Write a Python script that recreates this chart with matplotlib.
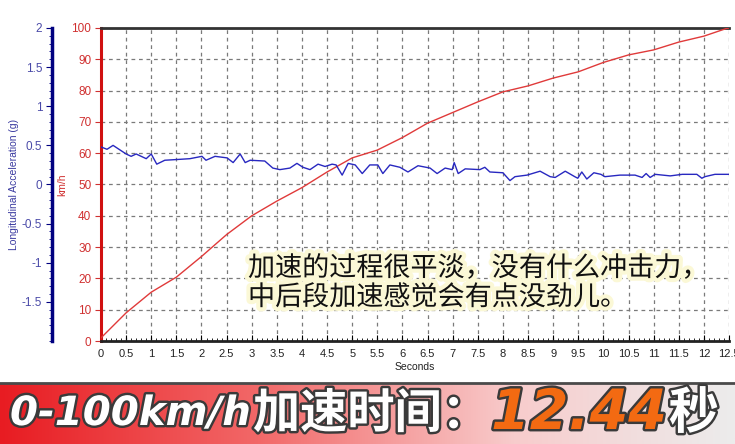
import numpy as np
import matplotlib
matplotlib.use('Agg')
import matplotlib.pyplot as plt
import matplotlib.patheffects as pe
from matplotlib.ticker import MultipleLocator, FixedLocator
from matplotlib.colors import LinearSegmentedColormap

# 速度曲线 (km/h)
speed_t = [0, 0.5, 1.0, 1.5, 2.0, 2.5, 3.0, 3.5, 4.0, 4.5, 5.0, 5.5, 6.0, 6.5, 7.0,
           7.5, 8.0, 8.5, 9.0, 9.5, 10.0, 10.5, 11.0, 11.5, 12.0, 12.44, 12.5]
speed_kmh = [1, 9, 15.6, 20.4, 27, 34, 40, 44.7, 49, 54, 58.5, 61, 65, 69.6, 73,
             76.4, 79.6, 81.5, 84, 86, 89, 91.4, 93, 95.5, 97.4, 99.8, 100]

# 纵向加速度 (g)
acc_t = [0, 0.12, 0.24, 0.50, 0.60, 0.70, 0.90, 1.00, 1.11, 1.27, 1.53, 1.77, 2.01, 2.09,
         2.27, 2.51, 2.63, 2.77, 2.87, 2.97, 3.26, 3.42, 3.56, 3.76, 3.90, 4.02, 4.16,
         4.32, 4.46, 4.60, 4.68, 4.80, 4.92, 5.06, 5.20, 5.35, 5.51, 5.61, 5.75, 5.95,
         6.11, 6.31, 6.55, 6.69, 6.85, 6.99, 7.03, 7.11, 7.25, 7.54, 7.64, 7.74, 8.00,
         8.14, 8.24, 8.48, 8.74, 8.94, 9.04, 9.24, 9.43, 9.49, 9.57, 9.67, 9.81, 9.95,
         10.03, 10.33, 10.63, 10.77, 10.85, 10.93, 11.03, 11.33, 11.57, 11.86, 11.96,
         12.02, 12.22, 12.5]
acc_g = [0.48, 0.45, 0.50, 0.39, 0.36, 0.39, 0.33, 0.39, 0.26, 0.31, 0.32, 0.33, 0.36, 0.31,
         0.36, 0.34, 0.28, 0.39, 0.28, 0.31, 0.30, 0.21, 0.19, 0.21, 0.27, 0.22, 0.19,
         0.26, 0.23, 0.26, 0.25, 0.12, 0.27, 0.25, 0.14, 0.25, 0.25, 0.14, 0.25, 0.22,
         0.16, 0.24, 0.21, 0.14, 0.21, 0.19, 0.28, 0.14, 0.20, 0.19, 0.22, 0.16, 0.15,
         0.05, 0.10, 0.12, 0.17, 0.10, 0.09, 0.17, 0.10, 0.08, 0.16, 0.07, 0.15, 0.13,
         0.10, 0.12, 0.12, 0.09, 0.14, 0.09, 0.13, 0.11, 0.13, 0.13, 0.08,
         0.10, 0.13, 0.13]

acc_ticks = [-1.5, -1, -0.5, 0, 0.5, 1, 1.5, 2]
acc_labels = ['-1.5', '-1', '-0.5', '0', '0.5', '1', '1.5', '2']

note_text = '加速的过程很平淡，没有什么冲击力，\n中后段加速感觉会有点没劲儿。'
banner_parts = ['0-100km/h', '加速时间：', '12.44', '秒']

plt.rcParams['font.family'] = ['Liberation Sans', 'DejaVu Sans']

W, H = 735, 444
fig = plt.figure(figsize=(W / 100, H / 100), dpi=100)
fig.patch.set_facecolor('white')

ax = fig.add_axes([101 / W, 103 / H, 628 / W, 313 / H])
ax.set_xlim(0, 12.5)
ax.set_ylim(0, 100)

# 网格
ax.xaxis.set_major_locator(MultipleLocator(0.5))
ax.xaxis.set_minor_locator(MultipleLocator(0.1))
ax.yaxis.set_major_locator(MultipleLocator(10))
ax.xaxis.set_major_formatter(matplotlib.ticker.FormatStrFormatter('%g'))
ax.grid(True, which='major', color='#7a7a7a', linestyle=(0, (3, 3)), linewidth=0.9)

ax.spines['right'].set_visible(False)
ax.spines['top'].set_color('#333333')
ax.spines['top'].set_linewidth(2)
ax.spines['bottom'].set_color('#222222')
ax.spines['bottom'].set_linewidth(2)
ax.spines['left'].set_color('#d01010')
ax.spines['left'].set_linewidth(2.2)

ax.tick_params(axis='x', which='major', direction='in', length=4, labelsize=8,
               labelcolor='#222222', pad=6)
ax.tick_params(axis='x', which='minor', direction='in', length=2.5)
ax.tick_params(axis='y', which='major', direction='out', length=4, color='#d03030',
               labelsize=8.5, labelcolor='#d03030', pad=3)

ax.plot(speed_t, speed_kmh, color='#e03a3a', linewidth=1.0, zorder=3)
ax.set_xlabel('Seconds', fontsize=7.5, color='#222222', labelpad=2)
ax.set_ylabel('km/h', fontsize=7.5, color='#d03030')
ax.yaxis.set_label_coords(-34 / 628, 0.5)

# 加速度轴
ax2 = ax.twinx()
ax2.set_ylim(-2, 2)
ax2.yaxis.set_ticks_position('left')
ax2.yaxis.set_label_position('left')
ax2.spines['left'].set_position(('outward', 49 * 0.72))
for s in ['right', 'top', 'bottom']:
    ax2.spines[s].set_visible(False)
ax2.spines['left'].set_color('#000080')
ax2.spines['left'].set_linewidth(2.5)
ax2.yaxis.set_major_locator(FixedLocator(acc_ticks))
ax2.set_yticklabels(acc_labels)
ax2.yaxis.set_minor_locator(MultipleLocator(0.1))
ax2.tick_params(axis='y', which='major', direction='out', length=4, color='#000080',
                labelsize=8.5, labelcolor='#4a4aa8', pad=3)
ax2.tick_params(axis='y', which='minor', direction='out', length=2, color='#000080')
ax2.set_ylabel('Longitudinal Acceleration (g)', fontsize=7.5, color='#3a3aa0')
ax2.yaxis.set_label_coords(-82 / 628, 0.5)
ax2.plot(acc_t, acc_g, color='#2828c0', linewidth=1.0)

# 说明文字
fig.text(248 / W, (H - 283) / H, note_text, fontsize=19.5, color='#111111',
         family=['Noto Sans CJK SC', 'DejaVu Sans'], va='center', ha='left',
         linespacing=1.1,
         path_effects=[pe.withStroke(linewidth=6, foreground='#fbf8d6')])

# 底部横幅
bax = fig.add_axes([0, 0, 1, 61 / H])
cmap = LinearSegmentedColormap.from_list(
    'banner', [(0.0, '#e81c22'), (0.35, '#f26868'), (0.7, '#f8cccc'), (1.0, '#ececec')])
bax.imshow(np.linspace(0, 1, 256).reshape(1, -1), aspect='auto', cmap=cmap,
           extent=[0, 1, 0, 1])
bax.set_xlim(0, 1)
bax.set_ylim(0, 1)
bax.axis('off')
fig.add_artist(plt.Line2D([0, 1], [61.5 / H, 61.5 / H], color='#4a4a4a', linewidth=2))

renderer = fig.canvas.get_renderer()
outline = [pe.withStroke(linewidth=3.5, foreground='#3a3a3a')]
styles = [
    dict(color='white', style='italic', family=['DejaVu Sans'], fontsize=29),
    dict(color='white', family=['Noto Sans CJK SC', 'DejaVu Sans'], fontsize=34),
    dict(color='#f36a12', style='italic', family=['DejaVu Sans'], fontsize=40),
    dict(color='white', family=['Noto Sans CJK SC', 'DejaVu Sans'], fontsize=36),
]
x = 10
for part, st in zip(banner_parts, styles):
    t = fig.text(x / W, 30 / H, part, fontweight='bold', va='center', ha='left',
                 path_effects=outline, **st)
    bb = t.get_window_extent(renderer)
    x = bb.x1 + 2

fig.savefig('out.png', dpi=100)
